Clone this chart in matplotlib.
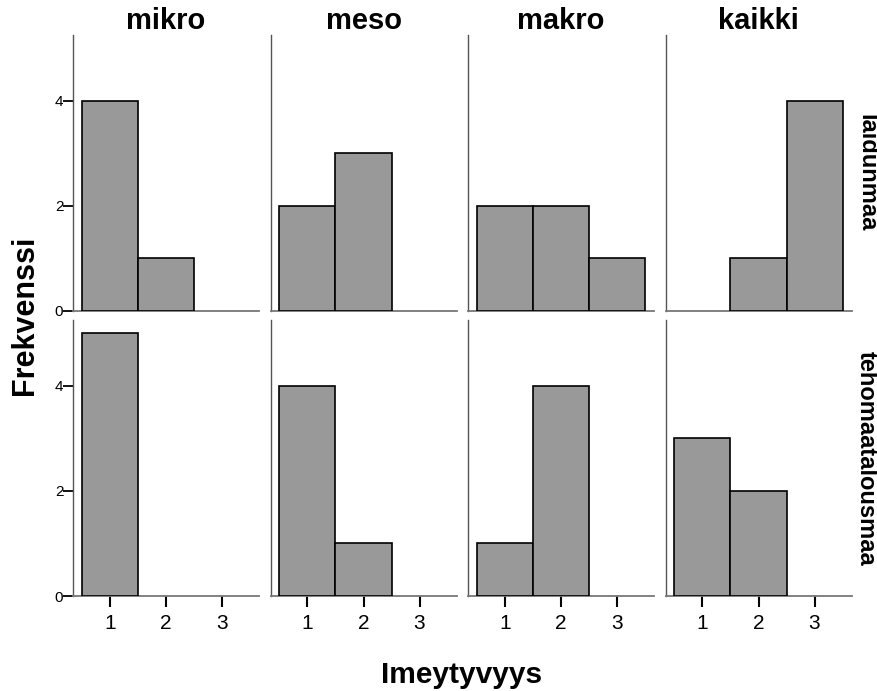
import matplotlib
matplotlib.use("Agg")
import matplotlib.pyplot as plt
import numpy as np

plt.rcParams['font.family'] = ['Liberation Sans', 'DejaVu Sans']

# Histogram counts for Imeytyvyys classes 1, 2, 3
classes = [1, 2, 3]
columns = ["mikro", "meso", "makro", "kaikki"]
rows = ["laidunmaa", "tehomaatalousmaa"]
laidunmaa = {
    "mikro": [4, 1, 0],
    "meso": [2, 3, 0],
    "makro": [2, 2, 1],
    "kaikki": [0, 1, 4],
}
tehomaatalousmaa = {
    "mikro": [5, 0, 0],
    "meso": [4, 1, 0],
    "makro": [1, 4, 0],
    "kaikki": [3, 2, 0],
}
counts = {"laidunmaa": laidunmaa, "tehomaatalousmaa": tehomaatalousmaa}
y_ticks = [0, 2, 4]

W, H = 877, 691
fig = plt.figure(figsize=(W / 100, H / 100), dpi=100)

# panel geometry in pixels
col_left = [73, 270.5, 468, 665.5]
panel_w = 186
row_top = [35, 320]
panel_h = 276

for r, row in enumerate(rows):
    for c, col in enumerate(columns):
        left = col_left[c] / W
        bottom = 1 - (row_top[r] + panel_h) / H
        ax = fig.add_axes([left, bottom, panel_w / W, panel_h / H])
        # empty classes get no bar at all
        xs = [x for x, n in zip(classes, counts[row][col]) if n > 0]
        ns = [n for n in counts[row][col] if n > 0]
        ax.bar(xs, ns, width=1.0, color='#999999',
               edgecolor='black', linewidth=1.2, zorder=3)
        ax.set_xlim(0.34, 3.66)
        ax.set_ylim(0, 5.25)
        for s in ['top', 'right']:
            ax.spines[s].set_visible(False)
        ax.spines['left'].set_color('#555555')
        ax.spines['bottom'].set_color('#777777')
        ax.spines['left'].set_linewidth(1.0)
        ax.spines['bottom'].set_linewidth(1.3)

        if c == 0:
            ax.set_yticks(y_ticks)
            ax.tick_params(axis='y', length=7, width=1.3, labelsize=11, pad=0)
        else:
            ax.set_yticks([])

        if r == 1:
            ax.set_xticks(classes)
            ax.tick_params(axis='x', length=8, width=1.5, labelsize=15, pad=5)
        else:
            ax.set_xticks([])

        if r == 0:
            ax.set_title(col, fontsize=21, fontweight='bold', pad=3)
        if c == 3:
            ax.text(855 / W, 1 - (row_top[r] + panel_h / 2) / H,
                    row, transform=fig.transFigure,
                    rotation=-90, va='center', ha='left',
                    fontsize=17, fontweight='bold')

fig.text(25 / W, 1 - 315 / H, "Frekvenssi", rotation=90, va='center',
         ha='center', fontsize=22, fontweight='bold')
fig.text(462 / W, 1 - 675 / H, "Imeytyvyys", va='center', ha='center',
         fontsize=21.5, fontweight='bold')

fig.savefig("out.png", dpi=100)
